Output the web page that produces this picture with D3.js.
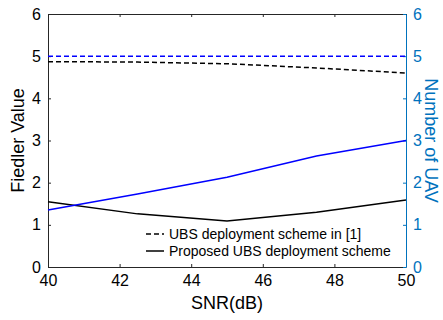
<!DOCTYPE html>
<html>
<head>
<meta charset="utf-8">
<script src="https://cdn.jsdelivr.net/npm/d3@7"></script>
<style>
  body { margin: 0; background: #ffffff; }
  text { font-family: 'Liberation Sans', Arial, sans-serif; }
</style>
</head>
<body>
<div id="chart"></div>
<script>
// Data.
const snr = [40, 42.5, 45, 47.5, 50];
const fiedlerRef = [4.87, 4.86, 4.82, 4.72, 4.6];
const fiedlerProposed = [1.55, 1.26, 1.09, 1.3, 1.59];
const uavRef = [5, 5, 5, 5, 5];
const uavProposed = [1.35, 1.73, 2.13, 2.63, 3.0];
const xTicks = [40, 42, 44, 46, 48, 50];
const yTicks = [0, 1, 2, 3, 4, 5, 6];
const legendLabels = ['UBS deployment scheme in [1]', 'Proposed UBS deployment scheme'];

const dimensions = {
  width: 443,
  height: 320,
  marginTop: 14,
  marginRight: 37,
  marginBottom: 53,
  marginLeft: 48,
};

const rightBlue = '#0072bd';

const svg = d3.select('#chart')
      .append('svg')
      .attr('width', dimensions.width)
      .attr('height', dimensions.height);

const x = d3.scaleLinear()
      .domain([40, 50])
      .range([dimensions.marginLeft, dimensions.width - dimensions.marginRight]);
const yLeft = d3.scaleLinear()
      .domain([0, 6])
      .range([dimensions.height - dimensions.marginBottom, dimensions.marginTop]);
const yRight = d3.scaleLinear()
      .domain([0, 6])
      .range([dimensions.height - dimensions.marginBottom, dimensions.marginTop]);

const plotBottom = dimensions.height - dimensions.marginBottom;
const plotTop = dimensions.marginTop;
const plotLeft = dimensions.marginLeft;
const plotRight = dimensions.width - dimensions.marginRight;
const fmt = d3.format('d');

// Axes, MATLAB style with inward ticks.
svg.append('g')
  .attr('transform', `translate(0,${plotBottom})`)
  .call(d3.axisBottom(x).tickValues(xTicks).tickFormat(fmt).tickSizeInner(-3).tickSizeOuter(0).tickPadding(8))
  .call(g => g.select('.domain').attr('stroke', '#262626'))
  .call(g => g.selectAll('.tick line').attr('stroke', '#262626'))
  .call(g => g.selectAll('.tick text').attr('fill', '#000').attr('font-size', 16));

svg.append('g')
  .attr('transform', `translate(0,${plotTop})`)
  .call(d3.axisTop(x).tickValues(xTicks).tickSizeInner(-3).tickSizeOuter(0).tickFormat(''))
  .call(g => g.select('.domain').attr('stroke', '#262626'))
  .call(g => g.selectAll('.tick line').attr('stroke', '#262626'));

svg.append('g')
  .attr('transform', `translate(${plotLeft},0)`)
  .call(d3.axisLeft(yLeft).tickValues(yTicks).tickFormat(fmt).tickSizeInner(-3).tickSizeOuter(0).tickPadding(7))
  .call(g => g.select('.domain').attr('stroke', '#262626'))
  .call(g => g.selectAll('.tick line').attr('stroke', '#262626'))
  .call(g => g.selectAll('.tick text').attr('fill', '#000').attr('font-size', 16));

svg.append('g')
  .attr('transform', `translate(${plotRight},0)`)
  .call(d3.axisRight(yRight).tickValues(yTicks).tickFormat(fmt).tickSizeInner(-3).tickSizeOuter(0).tickPadding(7))
  .call(g => g.select('.domain').attr('stroke', rightBlue))
  .call(g => g.selectAll('.tick line').attr('stroke', rightBlue))
  .call(g => g.selectAll('.tick text').attr('fill', rightBlue).attr('font-size', 16));

// Axis labels.
svg.append('text')
  .attr('x', (plotLeft + plotRight) / 2)
  .attr('y', 309)
  .attr('text-anchor', 'middle')
  .attr('font-size', 18)
  .text('SNR(dB)');

svg.append('text')
  .attr('transform', `translate(24,${(plotTop + plotBottom) / 2}) rotate(-90)`)
  .attr('text-anchor', 'middle')
  .attr('font-size', 18)
  .text('Fiedler Value');

svg.append('text')
  .attr('transform', `translate(425,${(plotTop + plotBottom) / 2}) rotate(90)`)
  .attr('text-anchor', 'middle')
  .attr('font-size', 18)
  .attr('fill', rightBlue)
  .text('Number of UAV');

// Lines.
const lineLeft = d3.line().x((d, i) => x(snr[i])).y(d => yLeft(d));
const lineRight = d3.line().x((d, i) => x(snr[i])).y(d => yRight(d));

const series = [
  { values: fiedlerRef, line: lineLeft, color: '#000', dash: '5,3' },
  { values: fiedlerProposed, line: lineLeft, color: '#000', dash: null },
  { values: uavRef, line: lineRight, color: '#0000ff', dash: '5,3' },
  { values: uavProposed, line: lineRight, color: '#0000ff', dash: null },
];

svg.append('g')
  .selectAll('path')
  .data(series)
  .join('path')
  .attr('d', d => d.line(d.values))
  .attr('fill', 'none')
  .attr('stroke', d => d.color)
  .attr('stroke-width', 1.5)
  .attr('stroke-dasharray', d => d.dash);

// Legend.
const legend = svg.append('g')
      .selectAll('g')
      .data(legendLabels)
      .join('g')
      .attr('transform', (d, i) => `translate(146,${234 + i * 17})`);

legend.append('line')
  .attr('x1', 0)
  .attr('x2', 18)
  .attr('stroke', '#000')
  .attr('stroke-width', 1.5)
  .attr('stroke-dasharray', (d, i) => i === 0 ? '5,3' : null);

legend.append('text')
  .attr('x', 23)
  .attr('dy', '0.35em')
  .attr('font-size', 14)
  .text(d => d);
</script>
</body>
</html>
